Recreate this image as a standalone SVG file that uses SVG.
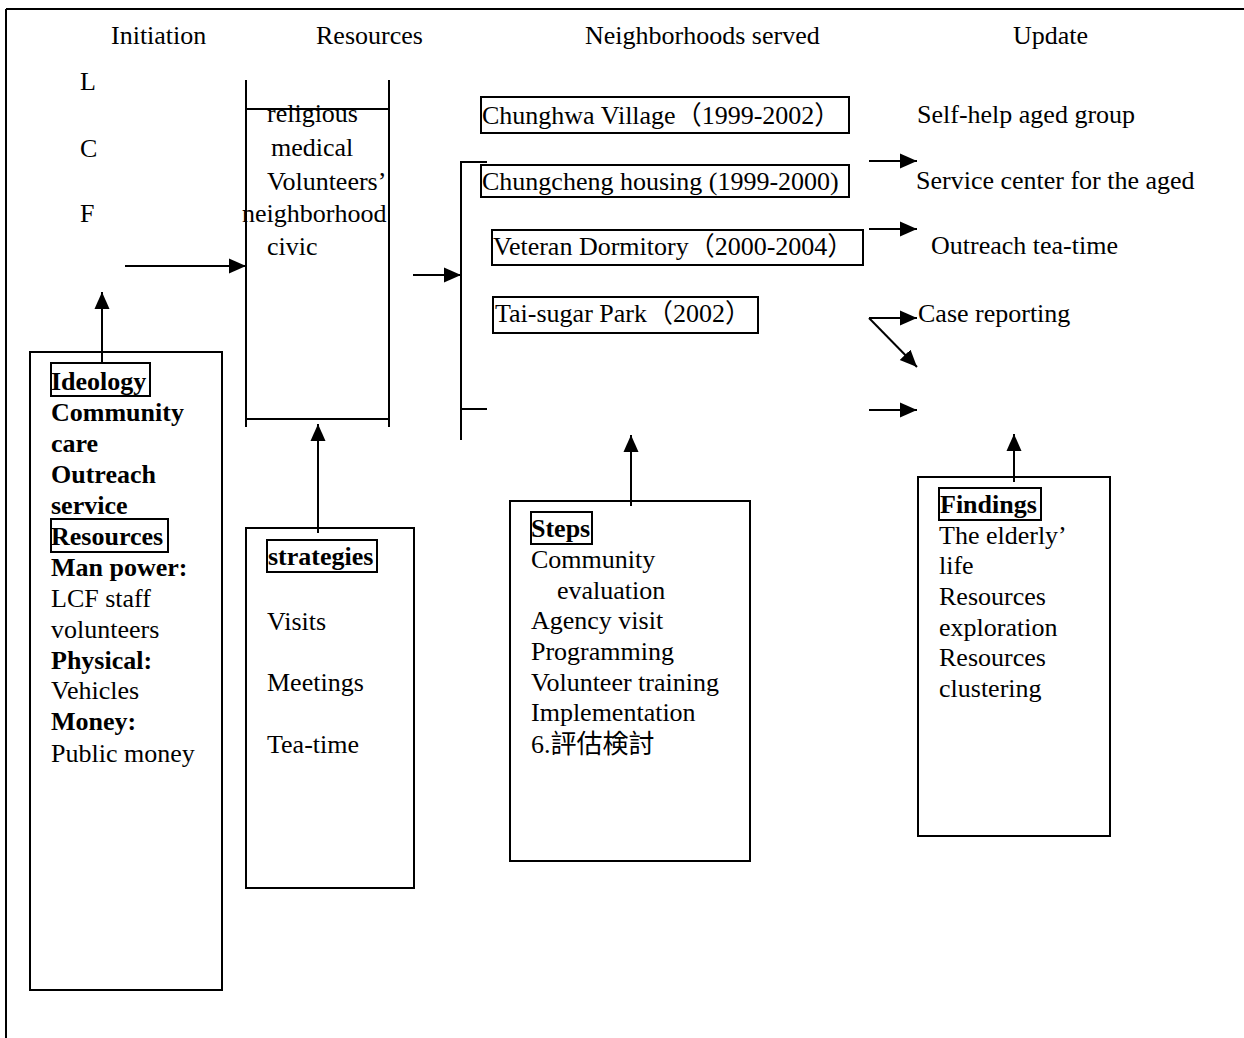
<svg xmlns="http://www.w3.org/2000/svg" width="1244" height="1038" viewBox="0 0 1244 1038">
<style>
text{font-family:"Liberation Serif","Noto Sans CJK TC","Noto Sans CJK JP",serif;font-size:26px;fill:#000}
.b{font-weight:bold}
.ln{stroke:#000;stroke-width:2;fill:none}
.box{stroke:#000;stroke-width:2;fill:none}
</style>
<defs>
<marker id="ah" markerUnits="userSpaceOnUse" markerWidth="17" markerHeight="16" refX="17" refY="8" orient="auto">
<path d="M0,0.5 L17,8 L0,15.5 Z" fill="#000"/>
</marker>
</defs>
<rect width="1244" height="1038" fill="#fff"/>
<g id="frame">
<line class="ln" x1="6" y1="9" x2="1244" y2="9"/>
<line class="ln" x1="6" y1="9" x2="6" y2="1038"/>
</g>
<g id="headers">
<text x="111" y="44">Initiation</text>
<text x="316" y="44">Resources</text>
<text x="585" y="44">Neighborhoods served</text>
<text x="1013" y="44">Update</text>
</g>
<g id="lcf">
<text x="80" y="90">L</text>
<text x="80" y="157">C</text>
<text x="80" y="222">F</text>
</g>
<g id="resources">
<line class="ln" x1="246" y1="80" x2="246" y2="427"/>
<line class="ln" x1="389" y1="80" x2="389" y2="427"/>
<line class="ln" x1="246" y1="109" x2="389" y2="109"/>
<line class="ln" x1="246" y1="419" x2="389" y2="419"/>
<text x="267" y="122">religious</text>
<text x="271" y="156">medical</text>
<text x="267" y="190">Volunteers’</text>
<text x="242" y="222">neighborhood</text>
<text x="267" y="255">civic</text>
</g>
<g id="initiation-box">
<rect class="box" x="30" y="352" width="192" height="638"/>
<rect class="box" x="51" y="363" width="99" height="33"/>
<rect class="box" x="51" y="519" width="117" height="33"/>
<text class="b" x="51" y="390">Ideology</text>
<text class="b" x="51" y="421">Community</text>
<text class="b" x="51" y="452">care</text>
<text class="b" x="51" y="483">Outreach</text>
<text class="b" x="51" y="514">service</text>
<text class="b" x="51" y="545">Resources</text>
<text class="b" x="51" y="576">Man power:</text>
<text x="51" y="607">LCF staff</text>
<text x="51" y="638">volunteers</text>
<text class="b" x="51" y="669">Physical:</text>
<text x="51" y="699">Vehicles</text>
<text class="b" x="51" y="730">Money:</text>
<text x="51" y="762">Public money</text>
</g>
<g id="strategies-box">
<rect class="box" x="246" y="528" width="168" height="360"/>
<rect class="box" x="267" y="540" width="110" height="32"/>
<text class="b" x="268" y="565">strategies</text>
<text x="267" y="630">Visits</text>
<text x="267" y="691">Meetings</text>
<text x="267" y="753">Tea-time</text>
</g>
<g id="neighborhoods">
<rect class="box" x="481" y="97" width="368" height="36"/>
<text x="482" y="124">Chunghwa Village（1999-2002）</text>
<rect class="box" x="481" y="165" width="368" height="32"/>
<text x="482" y="190">Chungcheng housing (1999-2000)</text>
<rect class="box" x="492" y="230" width="371" height="35"/>
<text x="493" y="255">Veteran Dormitory（2000-2004）</text>
<rect class="box" x="493" y="297" width="265" height="36"/>
<text x="495" y="322">Tai-sugar Park（2002）</text>
</g>
<g id="steps-box">
<rect class="box" x="510" y="501" width="240" height="360"/>
<rect class="box" x="531" y="512" width="61" height="32"/>
<text class="b" x="531" y="537">Steps</text>
<text x="531" y="568">Community</text>
<text x="557" y="599">evaluation</text>
<text x="531" y="629">Agency visit</text>
<text x="531" y="660">Programming</text>
<text x="531" y="691">Volunteer training</text>
<text x="531" y="721">Implementation</text>
<text x="531" y="753">6.評估検討</text>
</g>
<g id="update">
<text x="917" y="123">Self-help aged group</text>
<text x="916" y="189">Service center for the aged</text>
<text x="931" y="254">Outreach tea-time</text>
<text x="918" y="322">Case reporting</text>
</g>
<g id="findings-box">
<rect class="box" x="918" y="477" width="192" height="359"/>
<rect class="box" x="939" y="488" width="102" height="32"/>
<text class="b" x="940" y="513">Findings</text>
<text x="939" y="544">The elderly’</text>
<text x="939" y="574">life</text>
<text x="939" y="605">Resources</text>
<text x="939" y="636">exploration</text>
<text x="939" y="666">Resources</text>
<text x="939" y="697">clustering</text>
</g>
<g id="connectors">
<line class="ln" x1="125" y1="266" x2="246" y2="266" marker-end="url(#ah)"/>
<line class="ln" x1="102" y1="363" x2="102" y2="292" marker-end="url(#ah)"/>
<line class="ln" x1="318" y1="533" x2="318" y2="424" marker-end="url(#ah)"/>
<line class="ln" x1="413" y1="275" x2="461" y2="275" marker-end="url(#ah)"/>
<polyline class="ln" points="487,162 461,162 461,440"/>
<line class="ln" x1="461" y1="409" x2="487" y2="409"/>
<line class="ln" x1="869" y1="161" x2="917" y2="161" marker-end="url(#ah)"/>
<line class="ln" x1="869" y1="229" x2="917" y2="229" marker-end="url(#ah)"/>
<line class="ln" x1="869" y1="318" x2="917" y2="318" marker-end="url(#ah)"/>
<line class="ln" x1="869" y1="318" x2="917" y2="367" marker-end="url(#ah)"/>
<line class="ln" x1="869" y1="410" x2="917" y2="410" marker-end="url(#ah)"/>
<line class="ln" x1="631" y1="506" x2="631" y2="435" marker-end="url(#ah)"/>
<line class="ln" x1="1014" y1="482" x2="1014" y2="434" marker-end="url(#ah)"/>
</g>
</svg>
